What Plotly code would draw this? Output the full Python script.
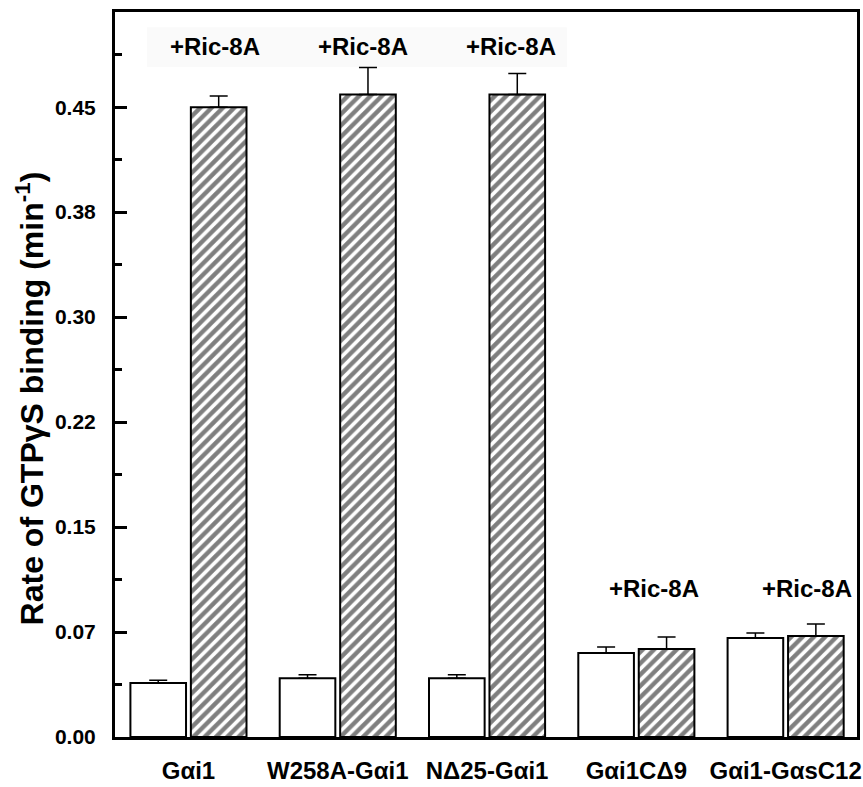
import plotly.graph_objects as go

categories = ["G\u03b1i1", "W258A-G\u03b1i1", "N\u039425-G\u03b1i1", "G\u03b1i1C\u03949", "G\u03b1i1-G\u03b1sC12"]
control_values = [0.0386, 0.042, 0.042, 0.060, 0.0707]
control_errors = [0.002, 0.0025, 0.0025, 0.0043, 0.0036]
ric8a_values = [0.450, 0.459, 0.459, 0.0629, 0.0721]
ric8a_errors = [0.0079, 0.0193, 0.015, 0.0086, 0.0086]
tick_values = [0.0, 0.075, 0.15, 0.225, 0.30, 0.375, 0.45]
tick_labels = ["0.00", "0.07", "0.15", "0.22", "0.30", "0.38", "0.45"]
minor_tick_values = [0.0375, 0.1125, 0.1875, 0.2625, 0.3375, 0.4125, 0.4875]
annotation_text = "+Ric-8A"

FONT = "Liberation Sans, Arial, sans-serif"
x_idx = list(range(len(categories)))

fig = go.Figure()
fig.add_trace(go.Bar(
    x=x_idx, y=control_values, name="control",
    marker=dict(color="white", line=dict(color="black", width=2)),
    error_y=dict(type="data", array=control_errors, arrayminus=[0] * len(control_errors),
                 symmetric=False, color="black", thickness=1.5, width=9),
))
fig.add_trace(go.Bar(
    x=x_idx, y=ric8a_values, name="+Ric-8A",
    marker=dict(color="white", line=dict(color="black", width=2),
                pattern=dict(shape="/", size=8, solidity=0.55, fgcolor="black", bgcolor="white")),
    error_y=dict(type="data", array=ric8a_errors, arrayminus=[0] * len(ric8a_errors),
                 symmetric=False, color="black", thickness=1.5, width=9),
))

# "+Ric-8A" labels above the treated bars
label_offsets = [0.18, 0.17, 0.16, 0.12, 0.14]
label_y = [0.493, 0.493, 0.493, 0.1064, 0.1064]
for i in x_idx:
    fig.add_annotation(x=i + label_offsets[i], y=label_y[i], xref="x", yref="y",
                       xanchor="center", yanchor="middle",
                       text=annotation_text, showarrow=False,
                       font=dict(family=FONT, size=24, color="black", weight="bold"))

# y-axis title
fig.add_annotation(x=-0.1146, y=0.467, xref="paper", yref="paper",
                   xanchor="center", yanchor="middle",
                   text="Rate of GTP\u03b3S binding (min<sup>-1</sup>)", textangle=-90,
                   showarrow=False, font=dict(family=FONT, size=32, color="black", weight="bold"))

# faint scan-shade behind top labels
fig.add_shape(type="rect", xref="paper", yref="paper", x0=0.043, x1=0.609, y0=0.924, y1=0.979,
              fillcolor="#fafafa", line=dict(width=0), layer="below")

fig.update_layout(
    width=863, height=787,
    margin=dict(l=115, r=6, t=12, b=50),
    paper_bgcolor="white", plot_bgcolor="white",
    barmode="group", bargap=0.19, bargroupgap=0.08,
    showlegend=False,
    font=dict(family=FONT, color="black"),
)
fig.update_xaxes(
    range=[-0.492, 4.478], tickmode="array", tickvals=x_idx, ticktext=categories,
    showline=True, linewidth=3, linecolor="black", mirror=True,
    ticks="", showgrid=False, zeroline=False, automargin=False, tickangle=0,
    ticklabeloverflow="allow",
    tickfont=dict(family=FONT, size=24, color="black", weight="bold"),
    ticklabelstandoff=10,
)
fig.update_yaxes(
    range=[0, 0.518], tickmode="array", tickvals=tick_values, ticktext=tick_labels,
    showline=True, linewidth=3, linecolor="black", mirror=True,
    ticks="inside", ticklen=12, tickwidth=3, tickcolor="black",
    minor=dict(tickmode="array", tickvals=minor_tick_values, ticks="inside", ticklen=7,
               tickwidth=3, tickcolor="black", showgrid=False),
    showgrid=False, zeroline=False, automargin=False,
    tickfont=dict(family=FONT, size=21, color="black", weight="bold"),
    ticklabelstandoff=12,
)

fig.write_html("out.html")
